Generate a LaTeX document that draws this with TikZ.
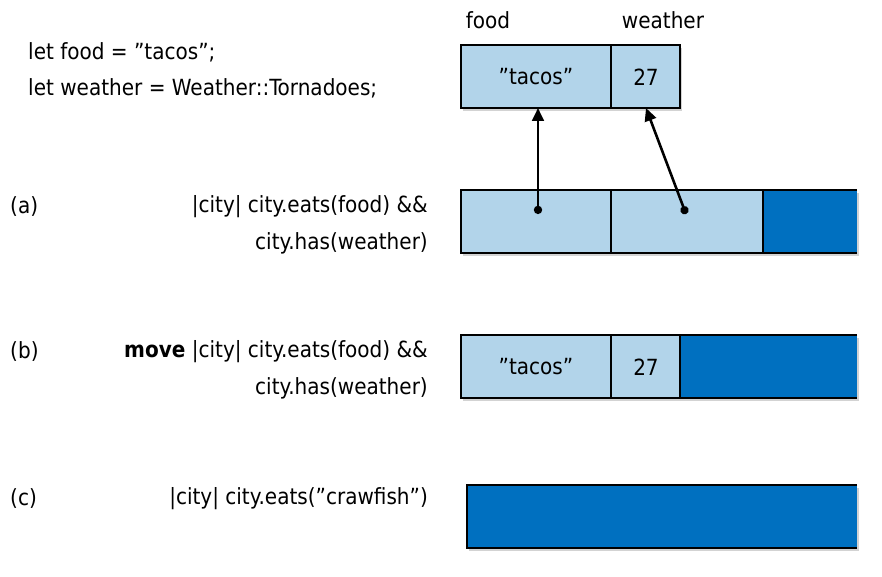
\documentclass[tikz,border=0pt]{standalone}
\usepackage{fontspec}
\setmainfont{DejaVu Sans Condensed}
\usetikzlibrary{shadows,arrows.meta}
\definecolor{lightcell}{RGB}{178,212,234}
\definecolor{darkcell}{RGB}{0,112,192}

\begin{document}
\begin{tikzpicture}[
    x=0.03cm, y=-0.03cm,
    every node/.style={font=\fontsize{19}{25}\selectfont, inner sep=0pt},
    cell/.style={fill=lightcell},
    rest/.style={fill=darkcell},
    rowshadow/.style={fill=white, drop shadow={shadow xshift=1.5pt, shadow yshift=-2.5pt, opacity=0.35}},
    edge/.style={line width=2.2pt},
    ptr/.style={line width=2.2pt, {Circle[length=7pt]}-{Triangle[length=11pt,width=10pt]}}
]
    \useasboundingbox (0,0) rectangle (882,576);

    % code at the top
    \node[anchor=west] (letfood) at (28,52) {let food = "tacos";};
    \node[anchor=west] (letweather) at (28,88) {let weather = Weather::Tornadoes;};
    \node (foodlbl) at (488,20) {food};
    \node (weatherlbl) at (663,20) {weather};

    % variables
    \fill[rowshadow] (461,45) rectangle (680,108);
    \fill[cell] (461,45) rectangle (680,108);
    \draw[edge] (461,45) rectangle (680,108);
    \draw[edge] (611,45) -- (611,108);
    \node (tacos) at (536,77) {"tacos"};
    \node (num) at (646,77) {27};
    \coordinate (foodbot) at (538,108);
    \coordinate (weatherbot) at (646,108);

    % (a)
    \node[anchor=west] (la) at (10,207) {(a)};
    \node[anchor=east] (ca1) at (428,207) {|city| city.eats(food) \&\&};
    \node[anchor=east] (ca2) at (428,243) {city.has(weather)};
    \fill[rowshadow] (461,190) rectangle (857,253);
    \fill[cell] (461,190) rectangle (763,253);
    \fill[rest] (763,190) rectangle (857,253);
    \draw[edge] (857,190) -- (461,190) -- (461,253) -- (857,253);
    \draw[edge] (611,190) -- (611,253) (763,190) -- (763,253);
    \coordinate (refa) at (538,214);
    \coordinate (refb) at (686,214);
    \draw[ptr] (refa) -- (foodbot);
    \draw[ptr] (refb) -- (weatherbot);

    % (b)
    \node[anchor=west] (lb) at (10,352) {(b)};
    \node[anchor=east] (cb1) at (428,352) {\textbf{move} |city| city.eats(food) \&\&};
    \node[anchor=east] (cb2) at (428,388) {city.has(weather)};
    \fill[rowshadow] (461,335) rectangle (857,398);
    \fill[cell] (461,335) rectangle (680,398);
    \fill[rest] (680,335) rectangle (857,398);
    \draw[edge] (857,335) -- (461,335) -- (461,398) -- (857,398);
    \draw[edge] (611,335) -- (611,398) (680,335) -- (680,398);
    \node (tacosb) at (536,367) {"tacos"};
    \node (numb) at (646,367) {27};

    % (c)
    \node[anchor=west] (lc) at (10,499) {(c)};
    \node[anchor=east] (cc) at (428,499) {|city| city.eats("crawfish")};
    \fill[rowshadow] (467,485) rectangle (857,548);
    \fill[rest] (467,485) rectangle (857,548);
    \draw[edge] (857,485) -- (467,485) -- (467,548) -- (857,548);
\end{tikzpicture}
\end{document}
